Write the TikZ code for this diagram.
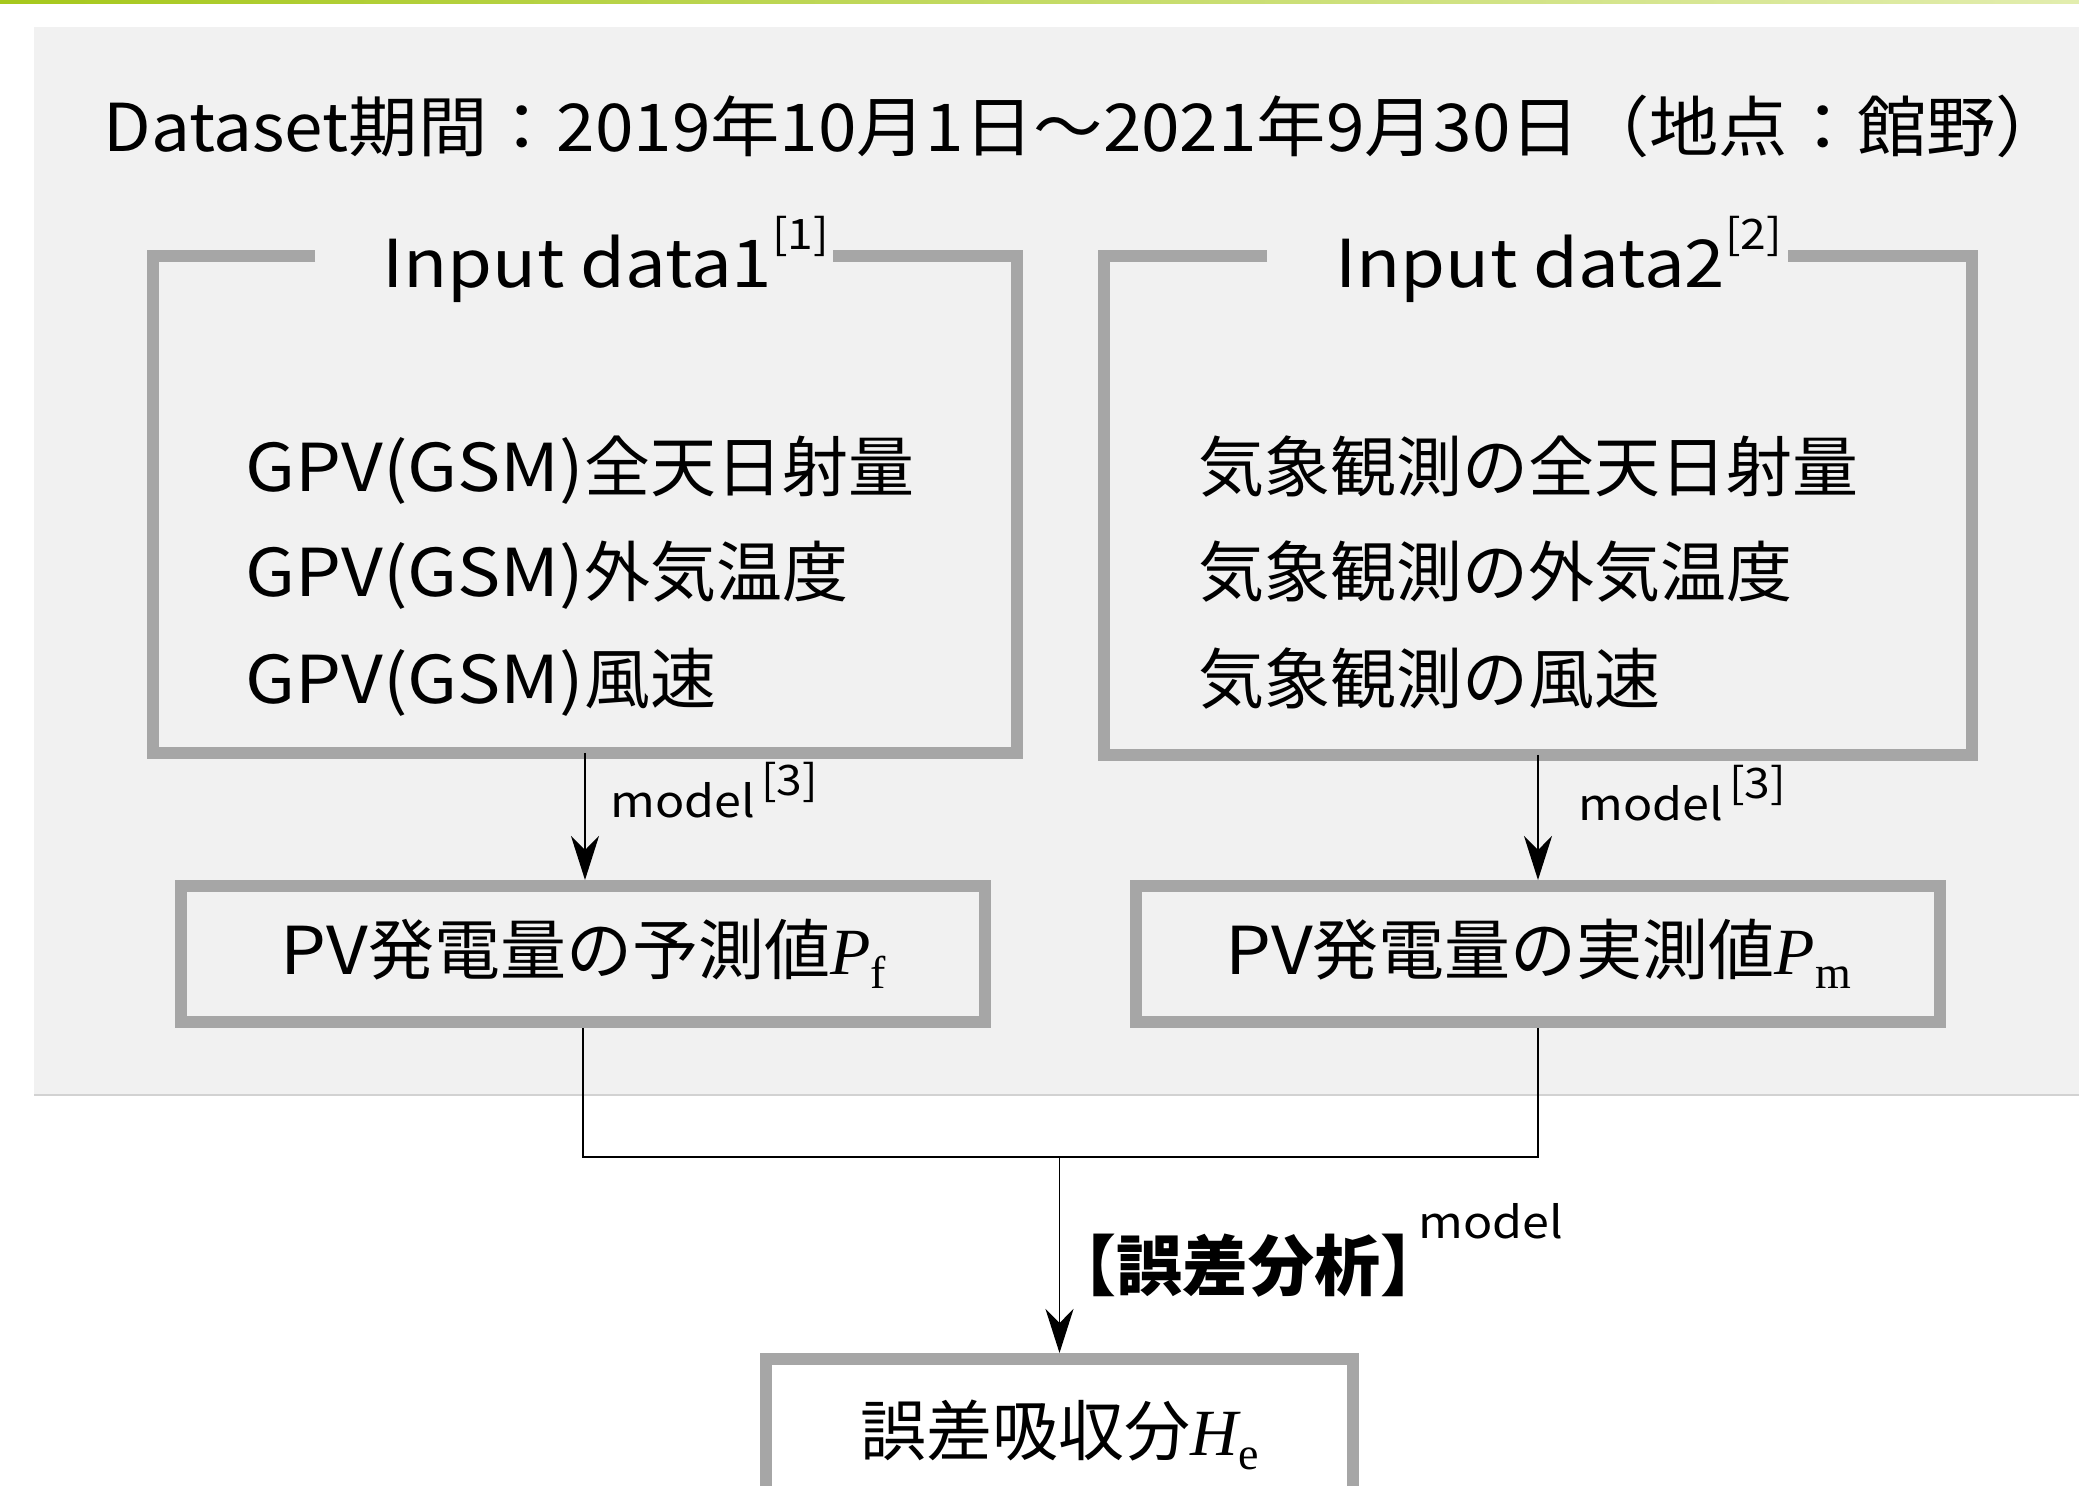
\documentclass[tikz,border=0pt]{standalone}
\usepackage{fontspec}
\setmainfont{Noto Sans CJK JP}
\newfontfamily\lat[FakeStretch=1.1]{Noto Sans CJK JP}
\newfontfamily\jpwide[FakeStretch=1.05]{Noto Sans CJK JP}
\newfontfamily\serifm{Liberation Serif}
\usetikzlibrary{arrows.meta}
\definecolor{panelfill}{HTML}{F1F1F1}
\definecolor{panelline}{HTML}{D2D2D2}
\definecolor{framegray}{HTML}{A6A6A6}
\definecolor{greenA}{HTML}{A6C81C}
\definecolor{greenB}{HTML}{E2EDAE}
\newcommand\fsbig{\fontsize{33pt}{40pt}\selectfont}
\newcommand\fsmid{\fontsize{22pt}{26pt}\selectfont}
\newcommand\fssup{\fontsize{21pt}{25pt}\selectfont}
\newcommand\symb[2]{{\serifm\itshape #1}\raisebox{-7pt}{\fontsize{23pt}{23pt}\selectfont\serifm #2}}
\tikzset{
  frame/.style={draw=framegray, line width=6pt, line join=miter},
  framebox/.style={frame, inner sep=0pt, font=\fsbig},
  conn/.style={line width=0.8pt, black},
  arr/.style={conn, -{Stealth[length=22pt,width=14pt,inset=7pt]}},
  txt/.style={anchor=base west, inner sep=0pt, font=\fsbig},
  lbl/.style={anchor=base west, inner sep=0pt, font=\fsmid\lat},
}
\begin{document}
\begin{tikzpicture}[x=0.5pt,y=-0.5pt]
\useasboundingbox (0,0) rectangle (2079,1486);
\clip (0,0) rectangle (2079,1486);
\fill[white] (0,0) rectangle (2079,1486);
% top green rule
\shade[left color=greenA, right color=greenB] (0,0) rectangle (2079,3.5);
% grey panel
\fill[panelfill] (34,27) rectangle (2079,1094);
\draw[panelline, line width=1pt] (34,1095) -- (2079,1095);

% title
\node[txt, font=\fsbig\jpwide] (title) at (103,152) {Dataset期間：2019年10月1日～2021年9月30日（地点：館野）};

% input boxes (open frames)
\node[line width=6pt, draw=none, minimum width=426pt, minimum height=242.5pt, inner sep=0pt] (d1) at (585,504.5) {};
\node[line width=6pt, draw=none, minimum width=428pt, minimum height=243.5pt, inner sep=0pt] (d2) at (1538,505.5) {};
\draw[frame] ([xshift=81pt]d1.north west) -- (d1.north west) -- (d1.south west) -- (d1.south east) -- (d1.north east) -- ([xshift=-92pt]d1.north east);
\draw[frame] ([xshift=81.5pt]d2.north west) -- (d2.north west) -- (d2.south west) -- (d2.south east) -- (d2.north east) -- ([xshift=-92pt]d2.north east);

\node[txt, font=\fsbig\lat] (t1) at (382,288) {Input data1\raisebox{19pt}{\fssup[1]}};
\node[txt, font=\fsbig\lat] (t2) at (1335,288) {Input data2\raisebox{19pt}{\fssup[2]}};

\node[txt] (a1) at (245,492) {{\lat GPV(GSM)}全天日射量};
\node[txt] (a2) at (245,597) {{\lat GPV(GSM)}外気温度};
\node[txt] (a3) at (245,704) {{\lat GPV(GSM)}風速};
\node[txt] (b1) at (1198,492) {気象観測の全天日射量};
\node[txt] (b2) at (1198,597) {気象観測の外気温度};
\node[txt] (b3) at (1198,704) {気象観測の風速};

% forecast / measured boxes
\node[framebox, fill=panelfill, minimum width=402pt, minimum height=68pt] (pf) at (583,954) {{\lat PV}発電量の予測値\symb{P}{f}};
\node[framebox, fill=panelfill, minimum width=402pt, minimum height=68pt] (pm) at (1538,954) {{\lat PV}発電量の実測値\symb{P}{m}};

\draw[arr] (d1.south) -- (d1.south |- pf.north);
\draw[arr] (d2.south) -- (d2.south |- pm.north);
\node[lbl] (m1) at (610,818) {model\hspace{3pt}\raisebox{11pt}{\fssup[3]}};
\node[lbl] (m2) at (1578,820) {model\hspace{3pt}\raisebox{11pt}{\fssup[3]}};

% error box
\node[framebox, fill=white, anchor=north, minimum width=293.5pt, text height=48pt, text depth=100pt, inner ysep=0pt] (he) at (1059.5,1353) {誤差吸収分\symb{H}{e}};

\coordinate (j) at (1059.5,1157);
\draw[conn] (pf.south) |- (pm.south |- j) -- (pm.south);
\draw[arr] (j) -- (he.north);

\node[txt, font=\fsbig\bfseries] (ea) at (1050,1290) {【誤差分析】};
\node[lbl] (em) at (1418,1238) {model};
\end{tikzpicture}
\end{document}
